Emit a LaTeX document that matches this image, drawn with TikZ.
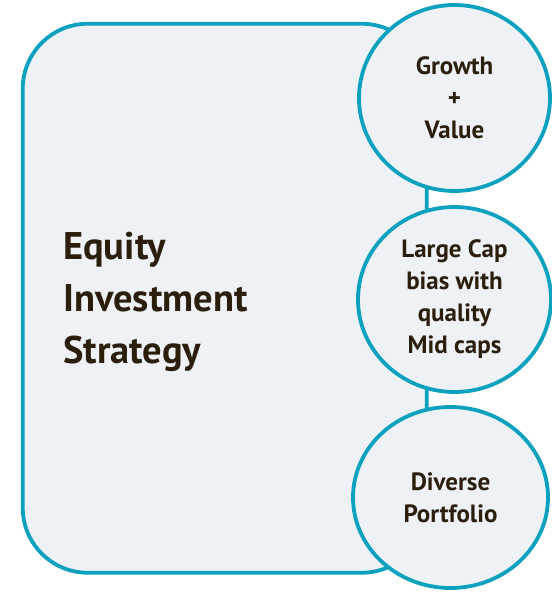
\documentclass[tikz,border=0pt]{standalone}
\usepackage{fontspec}
\setmainfont{PT Sans}
\usetikzlibrary{shapes.geometric}
\definecolor{ringblue}{RGB}{12,161,190}
\definecolor{paleblue}{RGB}{238,242,246}
\definecolor{inkbrown}{RGB}{43,31,12}

\begin{document}
\begin{tikzpicture}[x=1pt,y=-1pt,line width=3.8pt]
    \tikzstyle{bubble}=[shape=ellipse, draw=ringblue, fill=paleblue, inner sep=0pt, align=center, text=inkbrown, font=\bfseries\fontsize{25}{32}\selectfont]
    \useasboundingbox (0, 0) rectangle (551, 593);
    \node[draw=ringblue, fill=paleblue, rounded corners=65pt, minimum width=404pt, minimum height=549pt, inner sep=0pt] (frame) at (224.75, 298.25) {};
    \node[anchor=west, align=left, text=inkbrown, font=\bfseries\fontsize{38.5}{52}\selectfont] (title) at (58, 302) {Equity\\Investment\\Strategy};
    \node[bubble, minimum width=191pt, minimum height=186pt] (growth) at (454.5, 98) {Growth\\+\\Value};
    \node[bubble, minimum width=193pt, minimum height=185pt] (largecap) at (454.5, 299.5) {Large Cap\\bias with\\quality\\Mid caps};
    \node[bubble, minimum width=195pt, minimum height=181pt] (diverse) at (450.5, 497.5) {\raisebox{-3pt}{Diverse}\\\raisebox{-3pt}{Portfolio}};
\end{tikzpicture}
\end{document}
